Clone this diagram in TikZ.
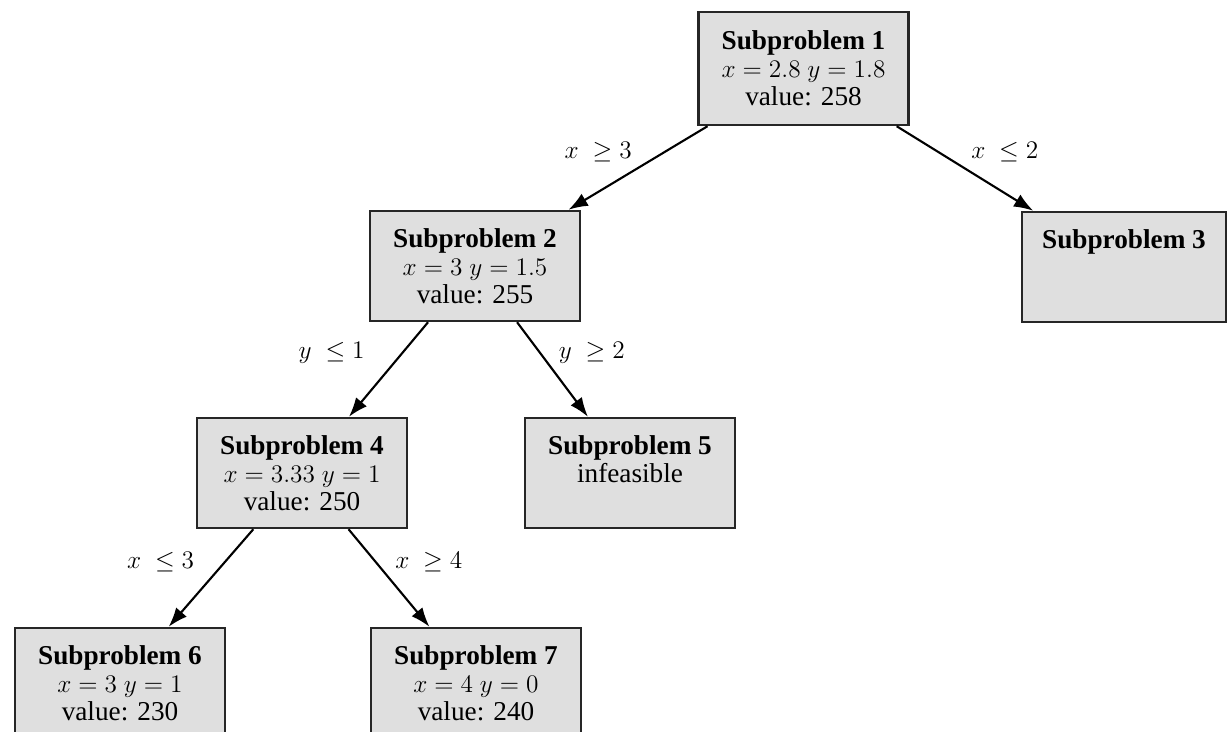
\documentclass[tikz,border=0pt]{standalone}
\usepackage{fontspec}
\setmainfont{Liberation Serif}
\usetikzlibrary{arrows.meta}

\tikzset{
  subprob/.style={draw=black!85, line width=1.4pt, fill=gray!25, align=center,
    minimum width=4.2cm, minimum height=2.2cm, inner sep=2pt,
    font=\fontsize{15.5}{16}\selectfont},
  rama/.style={line width=1.2pt, -{Latex[length=11pt,width=8pt]}},
  cota/.style={font=\fontsize{15.5}{16}\selectfont, inner sep=3pt}
}

\begin{document}
\begin{tikzpicture}
                \useasboundingbox (0,0) rectangle (24.54,-14.64);

                % Nodos del arbol
                \node[subprob, minimum height=2.26cm] (s1) at (16.07,-1.37) {\textbf{Subproblem 1}\\ $x = 2.8\ y = 1.8$\\ value: 258};
                \node[subprob] (s2) at (9.5,-5.32) {\textbf{Subproblem 2}\\ $x = 3\ y = 1.5$\\ value: 255};
                \node[subprob, minimum width=4.08cm] (s3) at (22.48,-5.34) {\textbf{Subproblem 3}\\ \\ };
                \node[subprob] (s4) at (6.04,-9.46) {\textbf{Subproblem 4}\\ $x = 3.33\ y = 1$\\ value: 250};
                \node[subprob] (s5) at (12.6,-9.46) {\textbf{Subproblem 5}\\ infeasible\\ };
                \node[subprob] (s6) at (2.4,-13.66) {\textbf{Subproblem 6}\\ $x = 3\ y = 1$\\ value: 230};
                \node[subprob] (s7) at (9.52,-13.66) {\textbf{Subproblem 7}\\ $x = 4\ y = 0$\\ value: 240};

                % Ramificaciones
                \draw[rama] (s1) -- (s2) node[cota, midway, above left] {$x\ \geq 3$};
                \draw[rama] (s1) -- (s3) node[cota, midway, above right] {$x\ \leq 2$};
                \draw[rama] (s2) -- (s4) node[cota, midway, above left, xshift=-10pt] {$y\ \leq 1$};
                \draw[rama] (s2) -- (s5) node[cota, midway, above right] {$y\ \geq 2$};
                \draw[rama] (s4) -- (s6) node[cota, midway, above left, xshift=-6pt] {$x\ \leq 3$};
                \draw[rama] (s4) -- (s7) node[cota, midway, above right] {$x\ \geq 4$};

\end{tikzpicture}
\end{document}
